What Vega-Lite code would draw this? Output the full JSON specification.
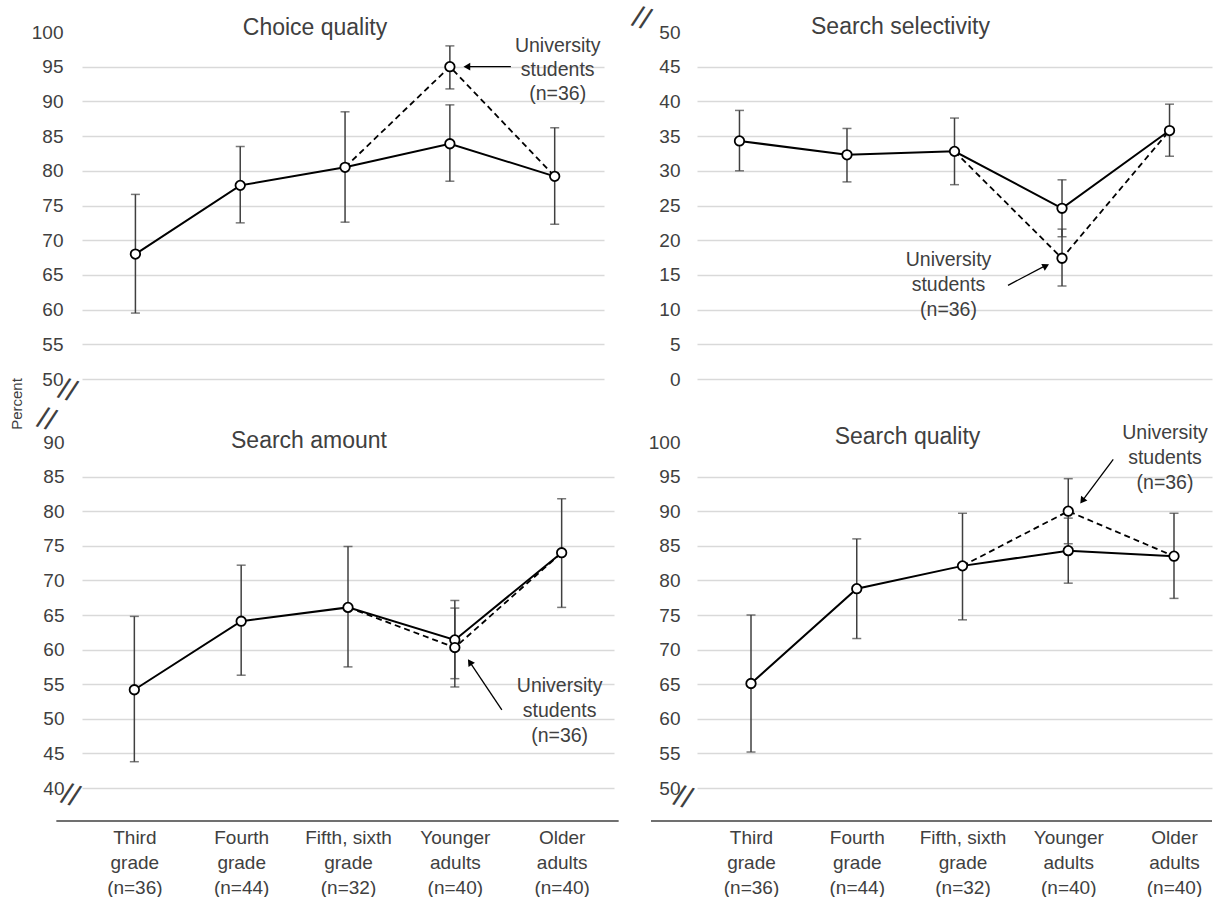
{
  "$schema": "https://vega.github.io/schema/vega-lite/v6.json",
  "background": "white",
  "padding": {"left": 10, "top": 2, "right": 0, "bottom": 0},
  "config": {
    "font": "Liberation Sans",
    "view": {"stroke": null},
    "axis": {"labelFont": "Liberation Sans", "labelColor": "#404040", "labelFontSize": 19, "ticks": false, "domain": false, "gridColor": "#d9d9d9", "gridWidth": 1.5},
    "title": {"font": "Liberation Sans", "fontSize": 23, "fontWeight": "normal", "color": "#404040", "anchor": "middle", "frame": "group", "baseline": "alphabetic", "offset": -17}
  },
  "datasets": {
    "d": [
      {"panel": "Choice quality", "series": "main", "group": "Third grade", "k": 1, "mean": 68.0, "lo": 59.5, "hi": 76.6, "dash": false},
      {"panel": "Choice quality", "series": "main", "group": "Fourth grade", "k": 2, "mean": 77.9, "lo": 72.5, "hi": 83.5, "dash": false},
      {"panel": "Choice quality", "series": "main", "group": "Fifth, sixth grade", "k": 3, "mean": 80.5, "lo": 72.6, "hi": 88.5, "dash": true},
      {"panel": "Choice quality", "series": "main", "group": "Younger adults", "k": 4, "mean": 83.9, "lo": 78.5, "hi": 89.5, "dash": false},
      {"panel": "Choice quality", "series": "main", "group": "Older adults", "k": 5, "mean": 79.2, "lo": 72.3, "hi": 86.2, "dash": true},
      {"panel": "Choice quality", "series": "univ", "group": "Younger adults", "k": 4, "mean": 95.0, "lo": 91.8, "hi": 98.0, "dash": true},
      {"panel": "Search selectivity", "series": "main", "group": "Third grade", "k": 1, "mean": 34.3, "lo": 30.0, "hi": 38.7, "dash": false},
      {"panel": "Search selectivity", "series": "main", "group": "Fourth grade", "k": 2, "mean": 32.3, "lo": 28.4, "hi": 36.1, "dash": false},
      {"panel": "Search selectivity", "series": "main", "group": "Fifth, sixth grade", "k": 3, "mean": 32.8, "lo": 28.0, "hi": 37.6, "dash": true},
      {"panel": "Search selectivity", "series": "main", "group": "Younger adults", "k": 4, "mean": 24.6, "lo": 20.5, "hi": 28.7, "dash": false},
      {"panel": "Search selectivity", "series": "main", "group": "Older adults", "k": 5, "mean": 35.8, "lo": 32.1, "hi": 39.6, "dash": true},
      {"panel": "Search selectivity", "series": "univ", "group": "Younger adults", "k": 4, "mean": 17.4, "lo": 13.4, "hi": 21.6, "dash": true},
      {"panel": "Search amount", "series": "main", "group": "Third grade", "k": 1, "mean": 54.2, "lo": 43.8, "hi": 64.8, "dash": false},
      {"panel": "Search amount", "series": "main", "group": "Fourth grade", "k": 2, "mean": 64.1, "lo": 56.3, "hi": 72.2, "dash": false},
      {"panel": "Search amount", "series": "main", "group": "Fifth, sixth grade", "k": 3, "mean": 66.1, "lo": 57.5, "hi": 74.9, "dash": true},
      {"panel": "Search amount", "series": "main", "group": "Younger adults", "k": 4, "mean": 61.4, "lo": 55.8, "hi": 67.1, "dash": false},
      {"panel": "Search amount", "series": "main", "group": "Older adults", "k": 5, "mean": 74.0, "lo": 66.1, "hi": 81.8, "dash": true},
      {"panel": "Search amount", "series": "univ", "group": "Younger adults", "k": 4, "mean": 60.3, "lo": 54.6, "hi": 66.0, "dash": true},
      {"panel": "Search quality", "series": "main", "group": "Third grade", "k": 1, "mean": 65.1, "lo": 55.2, "hi": 75.0, "dash": false},
      {"panel": "Search quality", "series": "main", "group": "Fourth grade", "k": 2, "mean": 78.8, "lo": 71.6, "hi": 86.0, "dash": false},
      {"panel": "Search quality", "series": "main", "group": "Fifth, sixth grade", "k": 3, "mean": 82.1, "lo": 74.3, "hi": 89.7, "dash": true},
      {"panel": "Search quality", "series": "main", "group": "Younger adults", "k": 4, "mean": 84.3, "lo": 79.6, "hi": 89.0, "dash": false},
      {"panel": "Search quality", "series": "main", "group": "Older adults", "k": 5, "mean": 83.5, "lo": 77.4, "hi": 89.7, "dash": true},
      {"panel": "Search quality", "series": "univ", "group": "Younger adults", "k": 4, "mean": 90.0, "lo": 85.3, "hi": 94.7, "dash": true}
    ]
  },
  "columns": 2,
  "bounds": "flush",
  "align": "none",
  "spacing": {"row": 63, "column": 83},
  "concat": [
    {
      "width": 522, "height": 347,
      "title": {"text": "Choice quality", "dx": -28},
      "data": {"name": "d"},
      "transform": [{"filter": "datum.panel == 'Choice quality'"}],
      "encoding": {
        "x": {"field": "group", "type": "nominal", "axis": null,
              "scale": {"type": "point", "domain": ["Third grade", "Fourth grade", "Fifth, sixth grade", "Younger adults", "Older adults"], "padding": 0.49, "align": 0.52}}
      },
      "layer": [
        {"mark": {"type": "rule", "color": "#404040", "strokeWidth": 1.5},
         "encoding": {"y": {"field": "lo", "type": "quantitative", "scale": {"domain": [50, 100], "nice": false, "zero": false},
                            "axis": {"title": null, "labelPadding": 19, "tickCount": 10, "gridColor": {"condition": {"test": "datum.value == 100", "value": "transparent"}, "value": "#d9d9d9"}}},
                      "y2": {"field": "hi"}}},
        {"mark": {"type": "tick", "color": "#404040", "size": 9, "thickness": 1.5}, "encoding": {"y": {"field": "lo", "type": "quantitative", "title": null}}},
        {"mark": {"type": "tick", "color": "#404040", "size": 9, "thickness": 1.5}, "encoding": {"y": {"field": "hi", "type": "quantitative", "title": null}}},
        {"transform": [{"filter": "datum.series == 'main'"}], "mark": {"type": "line", "color": "black", "strokeWidth": 2}, "encoding": {"y": {"field": "mean", "type": "quantitative", "title": null}, "order": {"field": "k"}}},
        {"transform": [{"filter": "datum.dash"}], "mark": {"type": "line", "color": "black", "strokeWidth": 1.8, "strokeDash": [6, 4]}, "encoding": {"y": {"field": "mean", "type": "quantitative", "title": null}, "order": {"field": "k"}}},
        {"mark": {"type": "point", "filled": true, "fill": "white", "stroke": "black", "strokeWidth": 1.8, "size": 90, "opacity": 1}, "encoding": {"y": {"field": "mean", "type": "quantitative", "title": null}}},
        {"data": {"values": [{}]}, "mark": {"type": "text", "text": ["University", "students", "(n=36)"], "fontSize": 19.5, "lineHeight": 24, "color": "#404040", "align": "center", "baseline": "middle", "xOffset": 3},
         "encoding": {"x": {"datum": "Older adults"}, "y": {"datum": 98.0}}},
        {"data": {"values": [{}]}, "mark": {"type": "rule", "color": "black", "strokeWidth": 1.3, "xOffset": 61, "x2Offset": 20},
         "encoding": {"x": {"datum": "Younger adults"}, "x2": {"datum": "Younger adults"}, "y": {"datum": 95}, "y2": {"datum": 95}}},
        {"data": {"values": [{}]}, "mark": {"type": "point", "shape": "triangle-up", "angle": 270, "filled": true, "color": "black", "opacity": 1, "size": 60, "xOffset": 17},
         "encoding": {"x": {"datum": "Younger adults"}, "y": {"datum": 95}}},
        {"data": {"values": [{}]}, "mark": {"type": "text", "text": "Percent", "fontSize": 15, "angle": 270, "color": "#404040", "align": "center", "baseline": "middle", "xOffset": -118, "yOffset": 25},
         "encoding": {"x": {"datum": "Third grade"}, "y": {"datum": 50}}},
        {"data": {"values": [{}]}, "mark": {"type": "text", "text": "//", "fontSize": 30, "angle": 18, "color": "#404040", "align": "center", "baseline": "middle", "xOffset": -68, "yOffset": 12},
         "encoding": {"x": {"datum": "Third grade"}, "y": {"datum": 50}}},
        {"data": {"values": [{}]}, "mark": {"type": "text", "text": "//", "fontSize": 30, "angle": 18, "color": "#404040", "align": "center", "baseline": "middle", "xOffset": -89, "yOffset": 41},
         "encoding": {"x": {"datum": "Third grade"}, "y": {"datum": 50}}}
      ]
    },
    {
      "width": 515, "height": 347,
      "title": {"text": "Search selectivity", "dx": -54, "offset": -37},
      "data": {"name": "d"},
      "transform": [{"filter": "datum.panel == 'Search selectivity'"}],
      "encoding": {
        "x": {"field": "group", "type": "nominal", "axis": null,
              "scale": {"type": "point", "domain": ["Third grade", "Fourth grade", "Fifth, sixth grade", "Younger adults", "Older adults"], "padding": 0.395, "align": 0.5}}
      },
      "layer": [
        {"mark": {"type": "rule", "color": "#404040", "strokeWidth": 1.5},
         "encoding": {"y": {"field": "lo", "type": "quantitative", "scale": {"domain": [0, 50], "nice": false},
                            "axis": {"title": null, "labelPadding": 17, "tickCount": 10, "gridColor": {"condition": {"test": "datum.value == 50", "value": "transparent"}, "value": "#d9d9d9"}}},
                      "y2": {"field": "hi"}}},
        {"mark": {"type": "tick", "color": "#404040", "size": 9, "thickness": 1.5}, "encoding": {"y": {"field": "lo", "type": "quantitative", "title": null}}},
        {"mark": {"type": "tick", "color": "#404040", "size": 9, "thickness": 1.5}, "encoding": {"y": {"field": "hi", "type": "quantitative", "title": null}}},
        {"transform": [{"filter": "datum.series == 'main'"}], "mark": {"type": "line", "color": "black", "strokeWidth": 2}, "encoding": {"y": {"field": "mean", "type": "quantitative", "title": null}, "order": {"field": "k"}}},
        {"transform": [{"filter": "datum.dash"}], "mark": {"type": "line", "color": "black", "strokeWidth": 1.8, "strokeDash": [6, 4]}, "encoding": {"y": {"field": "mean", "type": "quantitative", "title": null}, "order": {"field": "k"}}},
        {"mark": {"type": "point", "filled": true, "fill": "white", "stroke": "black", "strokeWidth": 1.8, "size": 90, "opacity": 1}, "encoding": {"y": {"field": "mean", "type": "quantitative", "title": null}}},
        {"data": {"values": [{}]}, "mark": {"type": "text", "text": ["University", "students", "(n=36)"], "fontSize": 19.5, "lineHeight": 25, "color": "#404040", "align": "center", "baseline": "middle", "xOffset": -6},
         "encoding": {"x": {"datum": "Fifth, sixth grade"}, "y": {"datum": 17.1}}},
        {"data": {"values": [{}]}, "mark": {"type": "rule", "color": "black", "strokeWidth": 1.3, "xOffset": -54, "x2Offset": -17},
         "encoding": {"x": {"datum": "Younger adults"}, "x2": {"datum": "Younger adults"}, "y": {"datum": 13.5}, "y2": {"datum": 16.3}}},
        {"data": {"values": [{}]}, "mark": {"type": "point", "shape": "triangle-up", "angle": 63, "filled": true, "color": "black", "opacity": 1, "size": 60, "xOffset": -16},
         "encoding": {"x": {"datum": "Younger adults"}, "y": {"datum": 16.3}}},
        {"data": {"values": [{}]}, "mark": {"type": "text", "text": "//", "fontSize": 30, "angle": 18, "color": "#404040", "align": "center", "baseline": "middle", "xOffset": -98, "yOffset": -13},
         "encoding": {"x": {"datum": "Third grade"}, "y": {"datum": 50}}}
      ]
    },
    {
      "width": 532, "height": 346,
      "title": {"text": "Search amount", "dx": -39, "offset": -20},
      "data": {"name": "d"},
      "transform": [{"filter": "datum.panel == 'Search amount'"}],
      "encoding": {
        "x": {"field": "group", "type": "nominal",
              "scale": {"type": "point", "domain": ["Third grade", "Fourth grade", "Fifth, sixth grade", "Younger adults", "Older adults"], "padding": 0.49, "align": 0.5},
              "axis": {"title": null, "offset": 33, "domain": false, "labelPadding": 7, "labelFontSize": 19, "labelLineHeight": 25, "labelAngle": 0, "labelBaseline": "top",
                       "labelExpr": "datum.label == 'Third grade' ? ['Third','grade','(n=36)'] : datum.label == 'Fourth grade' ? ['Fourth','grade','(n=44)'] : datum.label == 'Fifth, sixth grade' ? ['Fifth, sixth','grade','(n=32)'] : datum.label == 'Younger adults' ? ['Younger','adults','(n=40)'] : ['Older','adults','(n=40)']"}}
      },
      "layer": [
        {"mark": {"type": "rule", "color": "#404040", "strokeWidth": 1.5},
         "encoding": {"y": {"field": "lo", "type": "quantitative", "scale": {"domain": [40, 90], "nice": false, "zero": false},
                            "axis": {"title": null, "labelPadding": 18, "tickCount": 10, "gridColor": {"condition": {"test": "datum.value == 90", "value": "transparent"}, "value": "#d9d9d9"}}},
                      "y2": {"field": "hi"}}},
        {"mark": {"type": "tick", "color": "#404040", "size": 9, "thickness": 1.5}, "encoding": {"y": {"field": "lo", "type": "quantitative", "title": null}}},
        {"mark": {"type": "tick", "color": "#404040", "size": 9, "thickness": 1.5}, "encoding": {"y": {"field": "hi", "type": "quantitative", "title": null}}},
        {"transform": [{"filter": "datum.series == 'main'"}], "mark": {"type": "line", "color": "black", "strokeWidth": 2}, "encoding": {"y": {"field": "mean", "type": "quantitative", "title": null}, "order": {"field": "k"}}},
        {"transform": [{"filter": "datum.dash"}], "mark": {"type": "line", "color": "black", "strokeWidth": 1.8, "strokeDash": [6, 4]}, "encoding": {"y": {"field": "mean", "type": "quantitative", "title": null}, "order": {"field": "k"}}},
        {"mark": {"type": "point", "filled": true, "fill": "white", "stroke": "black", "strokeWidth": 1.8, "size": 90, "opacity": 1}, "encoding": {"y": {"field": "mean", "type": "quantitative", "title": null}}},
        {"data": {"values": [{}]}, "mark": {"type": "text", "text": ["University", "students", "(n=36)"], "fontSize": 19.5, "lineHeight": 25, "color": "#404040", "align": "center", "baseline": "middle", "xOffset": -2},
         "encoding": {"x": {"datum": "Older adults"}, "y": {"datum": 54.7}}},
        {"data": {"values": [{}]}, "mark": {"type": "rule", "color": "black", "strokeWidth": 1.3, "xOffset": 47, "x2Offset": 15},
         "encoding": {"x": {"datum": "Younger adults"}, "x2": {"datum": "Younger adults"}, "y": {"datum": 51.3}, "y2": {"datum": 58.2}}},
        {"data": {"values": [{}]}, "mark": {"type": "point", "shape": "triangle-up", "angle": 326, "filled": true, "color": "black", "opacity": 1, "size": 60, "xOffset": 15},
         "encoding": {"x": {"datum": "Younger adults"}, "y": {"datum": 58.2}}},
        {"data": {"values": [{}]}, "mark": {"type": "rule", "color": "#404040", "strokeWidth": 1.5, "xOffset": -78, "x2Offset": 57, "yOffset": 33, "y2Offset": 33},
         "encoding": {"x": {"datum": "Third grade"}, "x2": {"datum": "Older adults"}, "y": {"datum": 40}, "y2": {"datum": 40}}},
        {"data": {"values": [{}]}, "mark": {"type": "text", "text": "//", "fontSize": 30, "angle": 18, "color": "#404040", "align": "center", "baseline": "middle", "xOffset": -64, "yOffset": 8},
         "encoding": {"x": {"datum": "Third grade"}, "y": {"datum": 40}}}
      ]
    },
    {
      "width": 515, "height": 346,
      "title": {"text": "Search quality", "dx": -47, "offset": -26},
      "data": {"name": "d"},
      "transform": [{"filter": "datum.panel == 'Search quality'"}],
      "encoding": {
        "x": {"field": "group", "type": "nominal",
              "scale": {"type": "point", "domain": ["Third grade", "Fourth grade", "Fifth, sixth grade", "Younger adults", "Older adults"], "padding": 0.435, "align": 0.587},
              "axis": {"title": null, "offset": 33, "domain": false, "labelPadding": 7, "labelFontSize": 19, "labelLineHeight": 25, "labelAngle": 0, "labelBaseline": "top",
                       "labelExpr": "datum.label == 'Third grade' ? ['Third','grade','(n=36)'] : datum.label == 'Fourth grade' ? ['Fourth','grade','(n=44)'] : datum.label == 'Fifth, sixth grade' ? ['Fifth, sixth','grade','(n=32)'] : datum.label == 'Younger adults' ? ['Younger','adults','(n=40)'] : ['Older','adults','(n=40)']"}}
      },
      "layer": [
        {"mark": {"type": "rule", "color": "#404040", "strokeWidth": 1.5},
         "encoding": {"y": {"field": "lo", "type": "quantitative", "scale": {"domain": [50, 100], "nice": false, "zero": false},
                            "axis": {"title": null, "labelPadding": 17, "tickCount": 10, "gridColor": {"condition": {"test": "datum.value == 100", "value": "transparent"}, "value": "#d9d9d9"}}},
                      "y2": {"field": "hi"}}},
        {"mark": {"type": "tick", "color": "#404040", "size": 9, "thickness": 1.5}, "encoding": {"y": {"field": "lo", "type": "quantitative", "title": null}}},
        {"mark": {"type": "tick", "color": "#404040", "size": 9, "thickness": 1.5}, "encoding": {"y": {"field": "hi", "type": "quantitative", "title": null}}},
        {"transform": [{"filter": "datum.series == 'main'"}], "mark": {"type": "line", "color": "black", "strokeWidth": 2}, "encoding": {"y": {"field": "mean", "type": "quantitative", "title": null}, "order": {"field": "k"}}},
        {"transform": [{"filter": "datum.dash"}], "mark": {"type": "line", "color": "black", "strokeWidth": 1.8, "strokeDash": [6, 4]}, "encoding": {"y": {"field": "mean", "type": "quantitative", "title": null}, "order": {"field": "k"}}},
        {"mark": {"type": "point", "filled": true, "fill": "white", "stroke": "black", "strokeWidth": 1.8, "size": 90, "opacity": 1}, "encoding": {"y": {"field": "mean", "type": "quantitative", "title": null}}},
        {"data": {"values": [{}]}, "mark": {"type": "text", "text": ["University", "students", "(n=36)"], "fontSize": 19.5, "lineHeight": 25, "color": "#404040", "align": "center", "baseline": "middle", "xOffset": -9},
         "encoding": {"x": {"datum": "Older adults"}, "y": {"datum": 101.3}}},
        {"data": {"values": [{}]}, "mark": {"type": "rule", "color": "black", "strokeWidth": 1.3, "xOffset": 45, "x2Offset": 14},
         "encoding": {"x": {"datum": "Younger adults"}, "x2": {"datum": "Younger adults"}, "y": {"datum": 97.5}, "y2": {"datum": 91.5}}},
        {"data": {"values": [{}]}, "mark": {"type": "point", "shape": "triangle-up", "angle": 216, "filled": true, "color": "black", "opacity": 1, "size": 60, "xOffset": 14},
         "encoding": {"x": {"datum": "Younger adults"}, "y": {"datum": 91.5}}},
        {"data": {"values": [{}]}, "mark": {"type": "rule", "color": "#404040", "strokeWidth": 1.5, "xOffset": -100, "x2Offset": 38, "yOffset": 33, "y2Offset": 33},
         "encoding": {"x": {"datum": "Third grade"}, "x2": {"datum": "Older adults"}, "y": {"datum": 50}, "y2": {"datum": 50}}},
        {"data": {"values": [{}]}, "mark": {"type": "text", "text": "//", "fontSize": 30, "angle": 18, "color": "#404040", "align": "center", "baseline": "middle", "xOffset": -68, "yOffset": 10},
         "encoding": {"x": {"datum": "Third grade"}, "y": {"datum": 50}}}
      ]
    }
  ]
}
